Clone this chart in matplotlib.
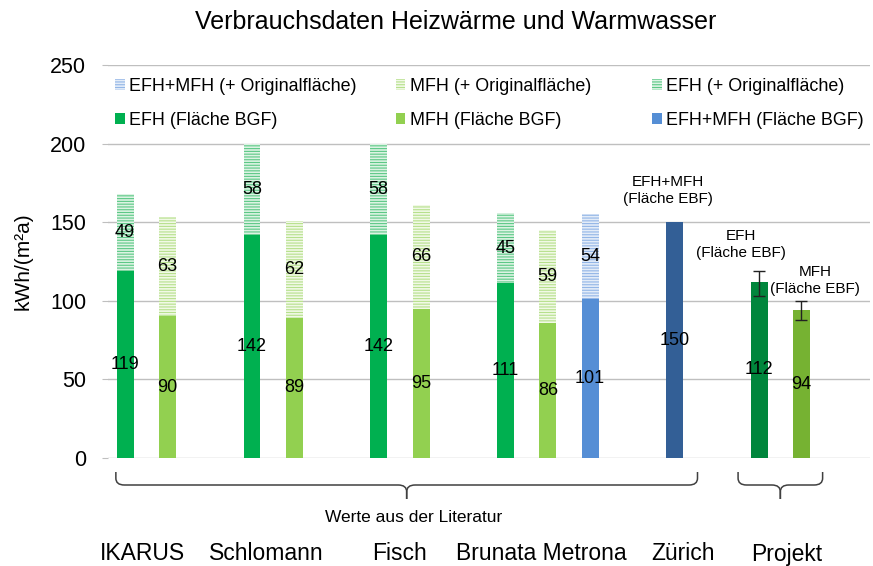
import numpy as np
import matplotlib.pyplot as plt
from matplotlib.path import Path
from matplotlib.patches import PathPatch
from matplotlib.transforms import blended_transform_factory

plt.rcParams['font.family'] = ['Liberation Sans', 'DejaVu Sans']
plt.rcParams['hatch.linewidth'] = 0.8

# data
sources = ["IKARUS", "Schlomann", "Fisch", "Brunata Metrona", "Zürich", "Projekt"]
efh_bgf = [119, 142, 142, 111]
efh_orig = [49, 58, 58, 45]
mfh_bgf = [90, 89, 95, 86]
mfh_orig = [63, 62, 66, 59]
mix_bgf = [101]
mix_orig = [54]
zurich_ebf = [150]
projekt_ebf = [112, 94]
projekt_err_low = [9, 6]
projekt_err_high = [7, 6]

# layout (slot positions)
lit_pos = np.array([0, 3, 6, 9])
mix_pos = np.array([11])
zur_pos = np.array([13])
proj_pos = np.array([15, 16])
label_x = [0.4, 3.35, 6.5, 9.85, 13.2, 15.65]
w = 0.4

c_efh = '#00B050'
c_mfh = '#92D050'
c_mix = '#558ED5'

fig = plt.figure(figsize=(8.73, 5.66), dpi=100)
ax = fig.add_axes([0.124, 0.191, 0.873, 0.694])

b1 = ax.bar(lit_pos, efh_bgf, w, color=c_efh, zorder=3)
b2 = ax.bar(lit_pos + 1, mfh_bgf, w, color=c_mfh, zorder=3)
b3 = ax.bar(mix_pos, mix_bgf, w, color=c_mix, zorder=3)
h1 = ax.bar(lit_pos, efh_orig, w, bottom=efh_bgf, color='#dcf3e3',
            edgecolor='#5cc886', hatch='------', linewidth=0, zorder=3)
h2 = ax.bar(lit_pos + 1, mfh_orig, w, bottom=mfh_bgf, color='#f1f9e6',
            edgecolor='#b6e08c', hatch='------', linewidth=0, zorder=3)
h3 = ax.bar(mix_pos, mix_orig, w, bottom=mix_bgf, color='#e3ecf8',
            edgecolor='#93b6e7', hatch='------', linewidth=0, zorder=3)
ax.bar(zur_pos, zurich_ebf, w, color='#335F96', zorder=3)
ax.bar(proj_pos, projekt_ebf, w, color=['#00863C', '#76B232'], zorder=3)
ax.errorbar(proj_pos, projekt_ebf, yerr=[projekt_err_low, projekt_err_high],
            fmt='none', ecolor='#222222', elinewidth=1, capsize=4, zorder=4)

# value labels
fs_val = 13
for x, v in zip(lit_pos, efh_bgf):
    ax.text(x, v / 2, str(v), ha='center', va='center', fontsize=fs_val, zorder=5)
for x, b, v in zip(lit_pos, efh_bgf, efh_orig):
    ax.text(x, b + v / 2, str(v), ha='center', va='center', fontsize=fs_val, zorder=5)
for x, v in zip(lit_pos + 1, mfh_bgf):
    ax.text(x, v / 2, str(v), ha='center', va='center', fontsize=fs_val, zorder=5)
for x, b, v in zip(lit_pos + 1, mfh_bgf, mfh_orig):
    ax.text(x, b + v / 2, str(v), ha='center', va='center', fontsize=fs_val, zorder=5)
for x, v in zip(mix_pos, mix_bgf):
    ax.text(x, v / 2, str(v), ha='center', va='center', fontsize=fs_val, zorder=5)
for x, b, v in zip(mix_pos, mix_bgf, mix_orig):
    ax.text(x, b + v / 2, str(v), ha='center', va='center', fontsize=fs_val, zorder=5)
for x, v in zip(zur_pos, zurich_ebf):
    ax.text(x, v / 2, str(v), ha='center', va='center', fontsize=fs_val, zorder=5)
for x, v in zip(proj_pos, projekt_ebf):
    ax.text(x, v / 2, str(v), ha='center', va='center', fontsize=fs_val, zorder=5)

# annotations above the EBF bars
ax.text(12.85, 170, "EFH+MFH\n(Fläche EBF)", ha='center', va='center', fontsize=11, linespacing=1.25)
ax.text(14.57, 136, "EFH\n(Fläche EBF)", ha='center', va='center', fontsize=11, linespacing=1.25)
ax.text(16.33, 113, "MFH\n(Fläche EBF)", ha='center', va='center', fontsize=11, linespacing=1.25)

ax.set_xlim(-0.4, 17.63)
ax.set_ylim(0, 250)
ax.set_yticks(range(0, 251, 50))
ax.tick_params(axis='y', labelsize=15.5, length=4, color='#bfbfbf', pad=12)
ax.set_xticks([])
ax.grid(axis='y', color='#bfbfbf', linewidth=1, zorder=0)
for s in ax.spines.values():
    s.set_visible(False)
ax.set_ylabel("kWh/(m²a)", fontsize=15, labelpad=12)
fig.text(0.522, 0.961, "Verbrauchsdaten Heizwärme und Warmwasser", ha='center', va='center', fontsize=18)

# legends (three columns)
leg_kw = dict(loc='upper left', frameon=False, fontsize=12.9, handlelength=0.55,
              handleheight=0.55, handletextpad=0.25, labelspacing=0.95, borderpad=0,
              borderaxespad=0)
cols = [([h3, b1], ["EFH+MFH (+ Originalfläche)", "EFH (Fläche BGF)"], 0.009),
        ([h2, b2], ["MFH (+ Originalfläche)", "MFH (Fläche BGF)"], 0.377),
        ([h1, b3], ["EFH (+ Originalfläche)", "EFH+MFH (Fläche BGF)"], 0.713)]
for hs, ls, xl in cols:
    lg = ax.legend(hs, ls, bbox_to_anchor=(xl, 0.968), **leg_kw)
    ax.add_artist(lg)
ax.legend_ = None

# braces below the axis
tr = blended_transform_factory(ax.transData, fig.transFigure)


def brace(x0, x1, top, mid, tip):
    xm = (x0 + x1) / 2
    rx, ry = 0.2, 0.012
    for xe, sgn in ((x0, 1), (x1, -1)):
        verts = [(xe, top), (xe, mid + ry), (xe, mid), (xe + sgn * rx, mid),
                 (xm - sgn * rx, mid), (xm, mid), (xm, mid - ry), (xm, tip)]
        codes = [Path.MOVETO, Path.LINETO, Path.CURVE3, Path.CURVE3,
                 Path.LINETO, Path.CURVE3, Path.CURVE3, Path.LINETO]
        ax.add_patch(PathPatch(Path(verts, codes), transform=tr, fill=False,
                               edgecolor='#404040', linewidth=1.1, clip_on=False))


y_top = 1 - 472 / 566
y_mid = 1 - 485 / 566
y_tip = 1 - 499 / 566
brace(-0.22, 13.54, y_top, y_mid, y_tip)
brace(14.5, 16.5, y_top, y_mid, y_tip)
ax.text(6.82, 1 - 518 / 566, "Werte aus der Literatur", transform=tr,
        ha='center', va='center', fontsize=12.5)
for x, s in zip(label_x, sources):
    ax.text(x, 1 - 554 / 566, s, transform=tr, ha='center', va='center', fontsize=16.5)

fig.savefig('out.png', dpi=100)
